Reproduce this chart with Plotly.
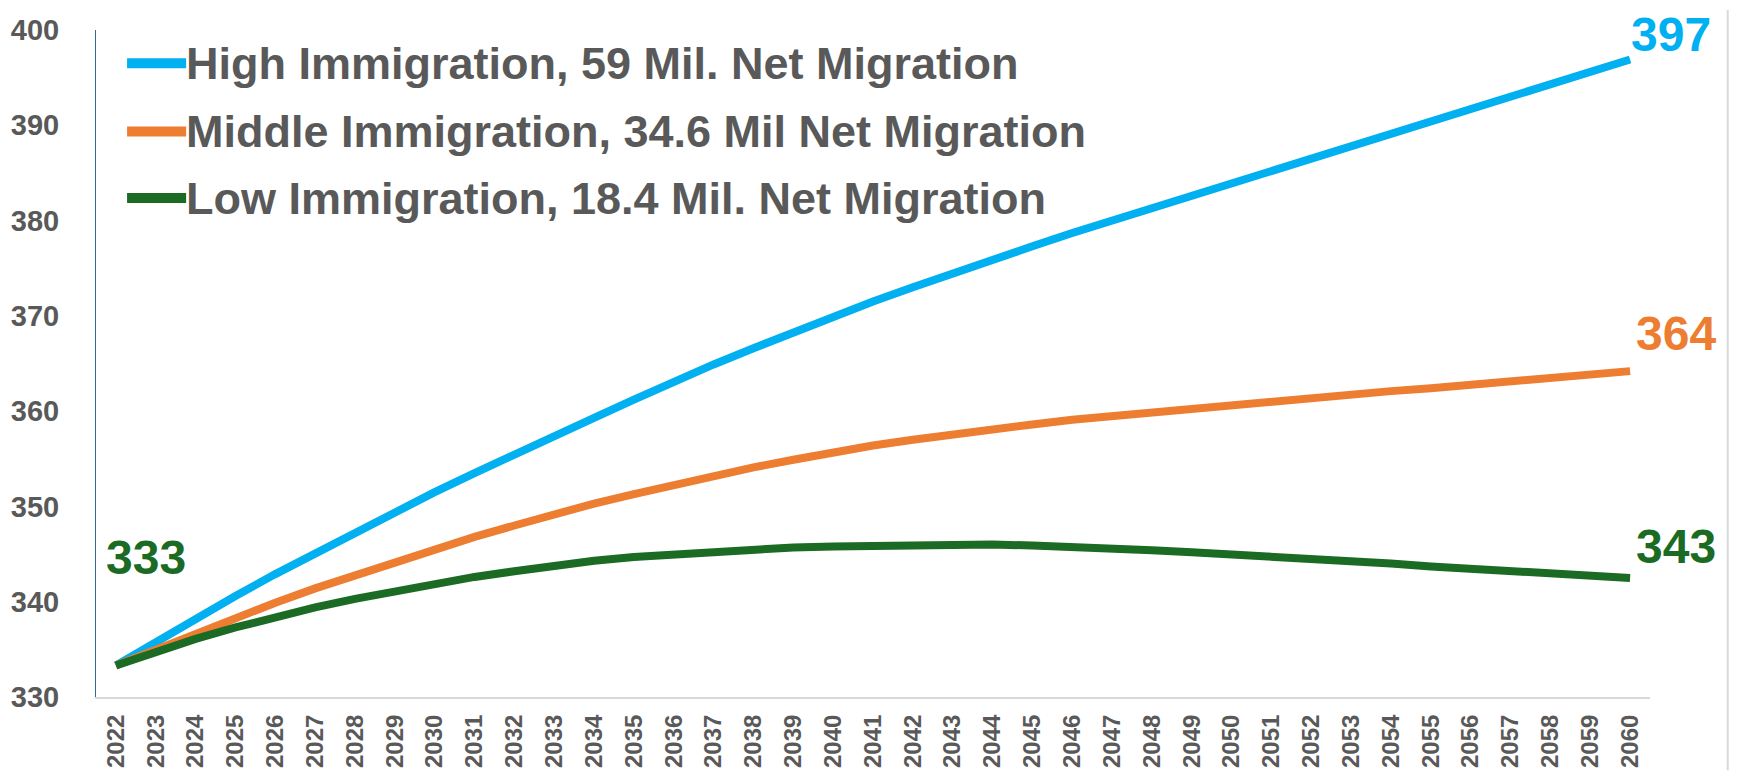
import plotly.graph_objects as go

# Years on the x axis
years = [str(y) for y in range(2022, 2061)]

# US population projections (millions)
high_immigration = [
    333.3, 335.8, 338.2, 340.6, 342.9, 345.1, 347.3, 349.4, 351.5, 353.5,
    355.5, 357.4, 359.3, 361.2, 363.1, 364.9, 366.6, 368.3, 369.9, 371.5,
    373.0, 374.5, 375.9, 377.3, 378.7, 380.0, 381.3, 382.6, 383.9, 385.2,
    386.4, 387.7, 389.0, 390.3, 391.6, 392.9, 394.2, 395.5, 396.9,
]
middle_immigration = [
    333.3, 335.0, 336.7, 338.3, 339.9, 341.4, 342.8, 344.2, 345.5, 346.8,
    348.0, 349.2, 350.3, 351.3, 352.3, 353.2, 354.1, 354.9, 355.7, 356.4,
    357.0, 357.6, 358.1, 358.6, 359.1, 359.5, 359.9, 360.3, 360.7, 361.1,
    361.4, 361.8, 362.1, 362.4, 362.8, 363.1, 363.5, 363.8, 364.2,
]
low_immigration = [
    333.3, 334.8, 336.1, 337.3, 338.4, 339.4, 340.3, 341.1, 341.9, 342.6,
    343.2, 343.8, 344.3, 344.7, 345.0, 345.3, 345.5, 345.7, 345.8, 345.9,
    346.0, 346.0, 346.0, 345.9, 345.8, 345.6, 345.4, 345.2, 345.0, 344.7,
    344.5, 344.2, 344.0, 343.7, 343.5, 343.2, 343.0, 342.8, 342.5,
]

series_names = [
    "High Immigration, 59 Mil. Net Migration",
    "Middle Immigration, 34.6 Mil Net Migration",
    "Low Immigration, 18.4 Mil. Net Migration",
]
end_labels = ["397", "364", "343"]
start_label = "333"

BLUE = "#00B0F0"
ORANGE = "#ED7D31"
GREEN = "#1B6B24"
GRAY = "#595959"
FONT = "Liberation Sans, Arial, sans-serif"

fig = go.Figure()
series = [high_immigration, middle_immigration, low_immigration]
colors = [BLUE, ORANGE, GREEN]
for name, vals, col in zip(series_names, series, colors):
    fig.add_trace(go.Scatter(x=years, y=vals, name=name, mode="lines",
                             line=dict(color=col, width=8)))

# end-of-line value labels (x given as category index)
last = len(years) - 1
shifts = [(41, 25), (46, 38), (46, 31)]
for vals, col, lab, (dx, dy) in zip(series, colors, end_labels, shifts):
    fig.add_annotation(xref="x", yref="y", x=last, y=vals[-1], text="<b>" + lab + "</b>",
                       showarrow=False, xshift=dx, yshift=dy,
                       font=dict(family=FONT, size=48, color=col))
fig.add_annotation(xref="x", yref="y", x=0, y=low_immigration[0],
                   text="<b>" + start_label + "</b>",
                   showarrow=False, xshift=30, yshift=108,
                   font=dict(family=FONT, size=48, color=GREEN))

# hand-made legend (long line swatches, big text)
leg_y = [0.950, 0.848, 0.748]
for name, col, ly in zip(series_names, colors, leg_y):
    fig.add_shape(type="line", xref="paper", yref="paper", x0=0.020, x1=0.058,
                  y0=ly, y1=ly, line=dict(color=col, width=10))
    fig.add_annotation(xref="paper", yref="paper", x=0.0567, y=ly, text="<b>" + name + "</b>",
                       showarrow=False, xanchor="left", yanchor="middle",
                       font=dict(family=FONT, size=45, color=GRAY))

# light frame line on the right
fig.add_shape(type="line", xref="paper", yref="paper", x0=1.050, x1=1.050,
              y0=1.03, y1=-0.11, line=dict(color="#d9d9d9", width=2))

fig.update_xaxes(type="category", range=[-0.5, 38.5], tickangle=-90,
                 showline=True, linecolor="#d9d9d9", linewidth=2,
                 showgrid=False, ticks="", ticklabelstandoff=6, automargin=False,
                 tickfont=dict(family=FONT, size=24, color=GRAY, weight="bold"))
fig.update_yaxes(range=[330, 400], dtick=10, showline=True, linecolor="#2E6A9A",
                 linewidth=1, showgrid=False, zeroline=False, ticks="",
                 ticklabelstandoff=30, automargin=False,
                 tickfont=dict(family=FONT, size=29, color=GRAY, weight="bold"))

# the page body adds an 8px offset, so margins are shifted up/left by 8px
fig.update_layout(width=1743, height=772, showlegend=False,
                  plot_bgcolor="white", paper_bgcolor="white",
                  margin=dict(l=88, r=101, t=22, b=83))

fig.write_html("out.html")
